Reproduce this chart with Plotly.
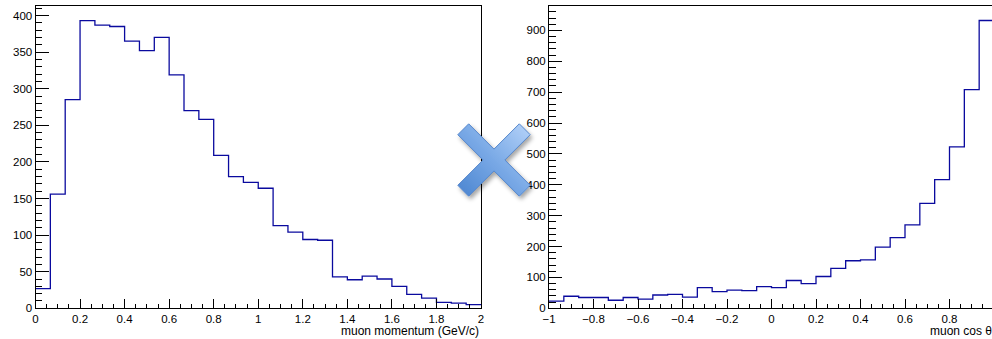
import base64
import numpy as np
import plotly.graph_objects as go

# ---------------- data ----------------
mom_range = [0.0, 2.0]
mom_counts = [27, 156, 285, 393, 387, 385, 365, 352, 370, 319,
              270, 258, 209, 180, 172, 164, 113, 104, 94, 93,
              43, 39, 44, 40, 30, 19, 14, 8, 7, 5]
cos_range = [-1.0, 1.0]
cos_counts = [23, 39, 35, 35, 26, 35, 30, 43, 45, 36,
              67, 54, 59, 57, 70, 67, 90, 80, 103, 129,
              154, 157, 198, 229, 270, 340, 417, 523, 708, 932]
mom_title = "muon momentum (GeV/c)"
cos_title = "muon cos θ"

W, H = 992, 339
FONT = "Liberation Sans, Arial, Helvetica, sans-serif"
LINE = "#0a0a9e"


def step_xy(rng, counts):
    edges = np.linspace(rng[0], rng[1], len(counts) + 1)
    ys = list(counts) + [counts[-1]]
    return edges, ys


fig = go.Figure()
mx, my = step_xy(mom_range, mom_counts)
fig.add_trace(go.Scatter(x=mx, y=my, mode="lines", line=dict(shape="hv", color=LINE, width=1.3),
                         xaxis="x", yaxis="y", showlegend=False, hoverinfo="skip"))
cx, cy = step_xy(cos_range, cos_counts)
fig.add_trace(go.Scatter(x=cx, y=cy, mode="lines", line=dict(shape="hv", color=LINE, width=1.3),
                         xaxis="x2", yaxis="y2", showlegend=False, hoverinfo="skip"))

# pixel geometry of the two frames
L1, R1 = 35.5, 481.0
L2 = 549.0
TOP, BOT = 6.0, 308.3
ydom = [(H - BOT) / H, (H - TOP) / H]
cos_px_per_unit = 222.5
cos_xmax = cos_range[0] + (W - L2) / cos_px_per_unit

tickfont = dict(family=FONT, size=11.5, color="black")
common = dict(showgrid=False, zeroline=False, showline=True, linecolor="black", linewidth=1,
              ticks="inside", tickcolor="black", tickwidth=1, tickfont=tickfont, automargin=False)

fig.update_layout(
    width=W, height=H, margin=dict(l=0, r=0, t=0, b=0, pad=0, autoexpand=False),
    paper_bgcolor="white", plot_bgcolor="white",
    xaxis=dict(domain=[L1 / W, R1 / W], range=mom_range, dtick=0.2, tick0=0, ticklen=9,
               mirror=True, anchor="y",
               minor=dict(dtick=0.05, ticks="inside", ticklen=4.5, tickcolor="black", tickwidth=1),
               **common),
    yaxis=dict(domain=ydom, range=[0, 413], dtick=50, tick0=0, ticklen=13,
               mirror=True, anchor="x",
               minor=dict(dtick=10, ticks="inside", ticklen=6.5, tickcolor="black", tickwidth=1),
               **common),
    xaxis2=dict(domain=[L2 / W, 1.0], range=[cos_range[0], cos_xmax], dtick=0.2, tick0=0, ticklen=9,
                mirror=True, anchor="y2",
                minor=dict(dtick=0.05, ticks="inside", ticklen=4.5, tickcolor="black", tickwidth=1),
                **common),
    yaxis2=dict(domain=ydom, range=[0, 979], dtick=100, tick0=0, ticklen=13,
                mirror=False, anchor="x2",
                minor=dict(dtick=20, ticks="inside", ticklen=6.5, tickcolor="black", tickwidth=1),
                **common),
)

# axis titles (ROOT style, right aligned at axis end)
fig.add_annotation(text=mom_title, xref="paper", yref="paper", x=R1 / W, y=(H - 331) / H,
                   xanchor="right", yanchor="middle", showarrow=False,
                   font=dict(family=FONT, size=12, color="black"))
fig.add_annotation(text=cos_title, xref="paper", yref="paper",
                   x=(L2 + 2 * cos_px_per_unit) / W, y=(H - 331) / H,
                   xanchor="right", yanchor="middle", showarrow=False,
                   font=dict(family=FONT, size=12, color="black"))

# decorative blue cross between the panels (SVG with gradient and soft shadow)
h, e = 7.7, 43.5
plus = [(h, e), (h, h), (e, h), (e, -h), (h, -h), (h, -e), (-h, -e), (-h, -h),
        (-e, -h), (-e, h), (-h, h), (-h, e)]
c45 = np.cos(np.pi / 4)
S = 100
pts = " ".join(f"{(px - py) * c45 + S / 2:.2f},{-(px + py) * c45 + S / 2:.2f}" for px, py in plus)
svg = f"""<svg xmlns="http://www.w3.org/2000/svg" width="{S}" height="{S}" viewBox="0 0 {S} {S}">
<defs>
<linearGradient id="g" x1="0" y1="1" x2="1" y2="0">
<stop offset="0" stop-color="#4a84d0"/>
<stop offset="0.5" stop-color="#79a9e6"/>
<stop offset="1" stop-color="#b6d3f9"/>
</linearGradient>
<filter id="s" x="-20%" y="-20%" width="140%" height="140%">
<feDropShadow dx="2" dy="3" stdDeviation="2" flood-color="#000" flood-opacity="0.35"/>
</filter>
</defs>
<polygon points="{pts}" fill="url(#g)" stroke="#5587cc" stroke-width="1" filter="url(#s)"/>
</svg>"""
src = "data:image/svg+xml;base64," + base64.b64encode(svg.encode()).decode()
fig.add_layout_image(source=src, xref="paper", yref="paper", x=494 / W, y=(H - 160) / H,
                     sizex=S / W, sizey=S / H, xanchor="center", yanchor="middle",
                     sizing="stretch", layer="above")

fig.write_html("out.html", config={"responsive": False, "displayModeBar": False},
               post_script="document.body.style.margin='0px';document.body.style.padding='0px';")
